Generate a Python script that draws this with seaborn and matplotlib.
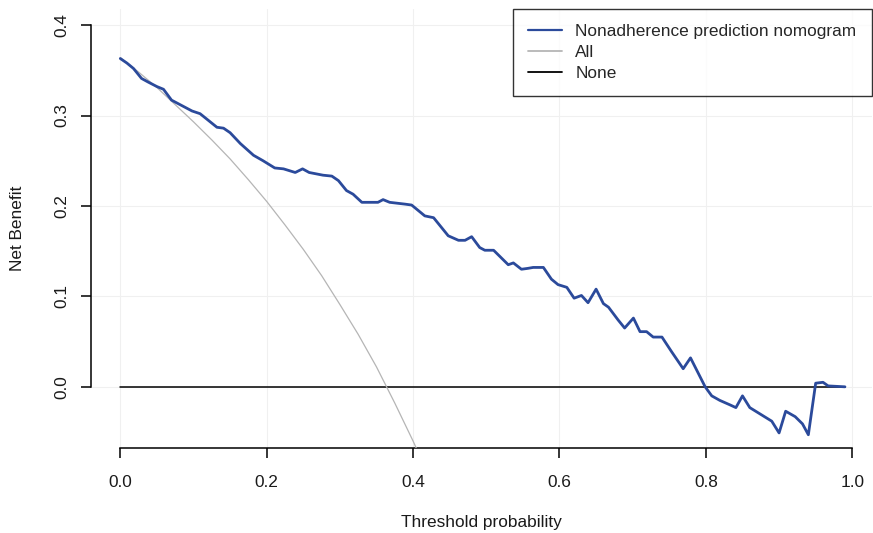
import pandas as pd
import numpy as np
import matplotlib
matplotlib.use('Agg')
import matplotlib.pyplot as plt
import seaborn as sns

# Decision curve values
model_threshold = [0.000, 0.009, 0.018, 0.029, 0.038, 0.050, 0.059, 0.070, 0.084, 0.098,
                   0.109, 0.132, 0.141, 0.150, 0.164, 0.182, 0.195, 0.211, 0.223, 0.239,
                   0.249, 0.258, 0.277, 0.289, 0.298, 0.309, 0.318, 0.330, 0.352, 0.359,
                   0.368, 0.389, 0.398, 0.416, 0.428, 0.448, 0.462, 0.471, 0.480, 0.491,
                   0.498, 0.510, 0.530, 0.537, 0.548, 0.557, 0.564, 0.578, 0.589, 0.598,
                   0.610, 0.620, 0.630, 0.639, 0.650, 0.660, 0.667, 0.680, 0.689, 0.701,
                   0.710, 0.719, 0.728, 0.740, 0.753, 0.769, 0.779, 0.799, 0.808, 0.819,
                   0.833, 0.841, 0.850, 0.860, 0.874, 0.890, 0.900, 0.909, 0.922, 0.932,
                   0.940, 0.950, 0.960, 0.967, 0.990]
model_benefit = [0.363, 0.358, 0.352, 0.341, 0.337, 0.332, 0.329, 0.317, 0.311, 0.305,
                 0.302, 0.287, 0.286, 0.281, 0.269, 0.256, 0.250, 0.242, 0.241, 0.237,
                 0.241, 0.237, 0.234, 0.233, 0.228, 0.217, 0.213, 0.204, 0.204, 0.207,
                 0.204, 0.202, 0.201, 0.189, 0.187, 0.167, 0.162, 0.162, 0.166, 0.154,
                 0.151, 0.151, 0.135, 0.137, 0.130, 0.131, 0.132, 0.132, 0.119, 0.113,
                 0.110, 0.098, 0.101, 0.093, 0.108, 0.092, 0.088, 0.074, 0.065, 0.076,
                 0.061, 0.061, 0.055, 0.055, 0.039, 0.020, 0.032, 0.000, -0.010, -0.015,
                 -0.020, -0.023, -0.010, -0.023, -0.030, -0.038, -0.051, -0.027, -0.033, -0.041,
                 -0.053, 0.004, 0.005, 0.001, 0.000]

all_threshold = [0.000, 0.025, 0.050, 0.075, 0.100, 0.125, 0.150, 0.175, 0.200, 0.225,
                 0.250, 0.275, 0.300, 0.325, 0.350, 0.375, 0.400, 0.410]
all_benefit = [0.364, 0.348, 0.331, 0.312, 0.293, 0.273, 0.252, 0.229, 0.205, 0.179,
               0.152, 0.123, 0.091, 0.058, 0.022, -0.018, -0.060, -0.078]

none_threshold = [0.0, 0.99]
none_benefit = [0.0, 0.0]

x_ticks = [0.0, 0.2, 0.4, 0.6, 0.8, 1.0]
y_ticks = [0.0, 0.1, 0.2, 0.3, 0.4]

model_df = pd.DataFrame({'threshold': model_threshold, 'net_benefit': model_benefit})
all_df = pd.DataFrame({'threshold': all_threshold, 'net_benefit': all_benefit})
none_df = pd.DataFrame({'threshold': none_threshold, 'net_benefit': none_benefit})

sns.set_style('ticks')
plt.rcParams['font.family'] = ['Liberation Sans', 'DejaVu Sans']
plt.rcParams['font.size'] = 12.4

fig, ax = plt.subplots(figsize=(8.73, 5.33), dpi=100)
fig.subplots_adjust(left=0.1046, right=0.9989, bottom=0.1589, top=0.9835)

sns.lineplot(data=model_df, x='threshold', y='net_benefit', ax=ax, color='#2B4A9B',
             linewidth=2.0, label='Nonadherence prediction nomogram', zorder=4, sort=False)
sns.lineplot(data=all_df, x='threshold', y='net_benefit', ax=ax, color='#b5b5b5',
             linewidth=0.9, label='All', zorder=3, sort=False)
sns.lineplot(data=none_df, x='threshold', y='net_benefit', ax=ax, color='black',
             linewidth=1.1, label='None', zorder=2, sort=False)

ax.set_xlim(-0.0396, 1.027)
ax.set_ylim(-0.068, 0.418)
ax.set_xticks(x_ticks)
ax.set_yticks(y_ticks)
ax.set_xticklabels([f'{t:.1f}' for t in x_ticks])
ax.set_yticklabels([f'{t:.1f}' for t in y_ticks])

ax.grid(True, color='#f0f0f0', linewidth=0.8)
ax.set_axisbelow(True)

# R style axes: only the tick range is drawn
for side in ['top', 'right']:
    ax.spines[side].set_visible(False)
ax.spines['left'].set_bounds(0, 0.4)
ax.spines['bottom'].set_bounds(0, 1.0)
for side in ['left', 'bottom']:
    ax.spines[side].set_color('black')
    ax.spines[side].set_linewidth(1.1)

ax.tick_params(axis='both', direction='out', length=7.5, width=1.1, colors='black',
               labelcolor='#1a1a1a', labelsize=12.4, bottom=True, left=True)
ax.tick_params(axis='x', pad=11.5)
ax.tick_params(axis='y', pad=8, labelrotation=90)
for lbl in ax.get_yticklabels():
    lbl.set_va('center')

ax.set_xlabel('Threshold probability', fontsize=12.4, color='#1a1a1a', va='center')
ax.set_ylabel('Net Benefit', fontsize=12.4, color='#1a1a1a', va='center')
ax.xaxis.set_label_coords(0.5, -0.168)
ax.yaxis.set_label_coords(-0.094, 0.5)

leg = ax.legend(loc='upper right', bbox_to_anchor=(1.0, 1.0), borderaxespad=0,
                fancybox=False, frameon=True, edgecolor='black', fontsize=12.4,
                handlelength=2.0, handletextpad=0.75, borderpad=0.9, labelspacing=0.33)
leg.get_frame().set_linewidth(1.0)
for line in leg.get_lines():
    line.set_linewidth(1.3)
leg.get_lines()[0].set_linewidth(1.6)

plt.savefig('out.png', dpi=100)
